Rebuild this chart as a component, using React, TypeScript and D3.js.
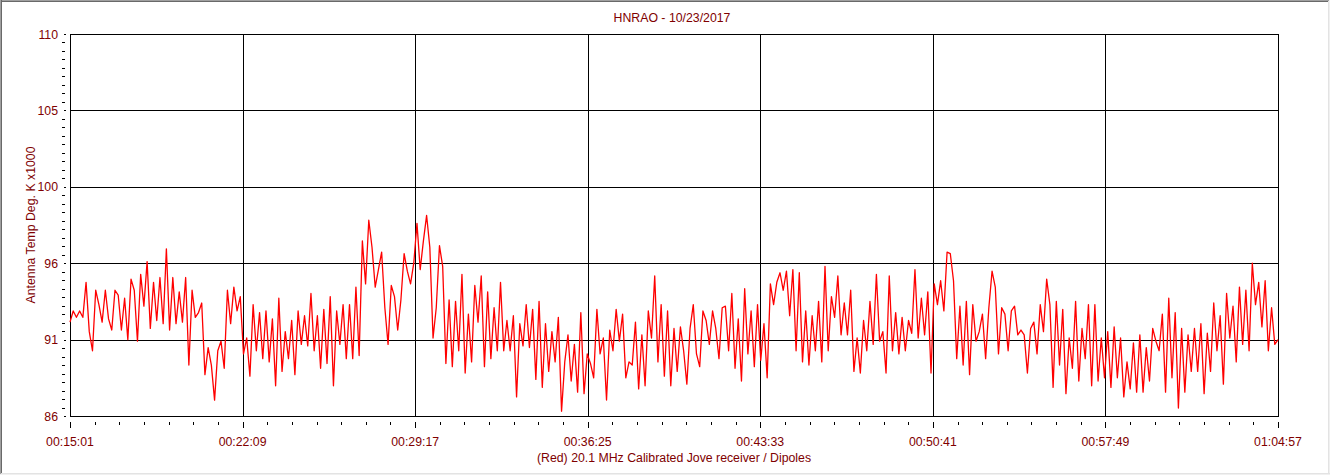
import React from 'react';
import * as d3 from 'd3';

// chart time range, seconds since midnight
const startSec = 901; // 00:15:01
const endSec = 3897; // 01:04:57

const chartTitle = 'HNRAO - 10/23/2017';
const xAxisTitle = '(Red) 20.1 MHz Calibrated Jove receiver / Dipoles';
const yAxisTitle = 'Antenna Temp Deg. K x1000';

const xTickLabels = ['00:15:01', '00:22:09', '00:29:17', '00:36:25', '00:43:33', '00:50:41', '00:57:49', '01:04:57'];
const yTickLabels = ['86', '91', '96', '100', '105', '110'];

const temps1 = [
  91.9, 92.6, 92.2, 92.6, 92.2, 94.4, 91.3, 90.1, 93.9, 93.0,
  91.9, 93.9, 92.1, 91.4, 93.9, 93.6, 91.4, 93.4, 90.8, 94.6,
  93.9, 90.7, 94.9, 92.9, 95.7, 91.5, 94.4, 92.0, 94.7, 91.8,
  96.5, 91.4, 94.7, 91.8, 93.8, 91.9, 94.7, 89.2, 93.9, 92.2,
  92.5, 93.1, 88.6, 90.3, 89.2, 87.0, 90.1, 90.7, 89.0, 93.9,
  91.8, 94.1, 92.6, 93.5, 89.9, 90.9, 88.5, 93.0, 90.1, 92.5,
  89.6, 92.6, 89.4, 92.1, 87.9, 93.4, 88.8, 91.3, 89.6, 92.0,
  88.6, 92.6, 90.5, 92.3, 90.4, 93.7, 90.1, 92.3, 89.0, 92.7,
  89.3, 93.5, 87.9, 92.6, 90.5, 93.0, 89.6, 93.0, 89.6, 94.1,
  89.8, 97.0, 94.3,
];
const temps2 = [
  98.3, 96.6, 94.1, 95.2, 96.3, 92.8, 90.5, 94.2, 93.5, 91.4,
  93.3, 96.2, 95.1, 94.3, 95.6, 98.1, 95.2, 97.0, 98.6, 96.6,
  90.9, 92.8, 96.7, 95.4, 89.3, 93.3, 89.1, 93.2, 90.1, 94.9,
  88.7, 92.4, 89.4, 94.2, 91.9, 94.8, 89.1, 93.8, 89.6, 92.8,
  90.1, 94.4, 90.1, 92.0, 90.1, 92.3, 87.2, 91.8, 90.4, 93.0,
  90.3, 92.7, 88.3, 93.2, 87.8, 91.8, 88.8, 91.3, 89.4, 92.2,
  86.3, 89.4, 91.1, 88.2, 90.5, 87.5, 92.5, 87.4, 89.9, 89.3,
  88.4, 92.7, 89.9, 90.9, 87.0, 91.4, 90.1, 92.7, 90.7, 92.4,
  88.4, 89.4, 89.2, 91.9, 87.7, 91.1, 87.9, 92.6, 90.9, 94.8,
  89.4, 93.0, 88.5, 92.6, 87.9, 91.5, 88.8,
];
const temps3 = [
  91.6, 90.1, 88.0, 91.5, 93.0, 89.9, 89.1, 92.6, 92.0, 90.5,
  92.6, 91.5, 89.6, 92.8, 92.9, 90.1, 93.7, 89.0, 92.1, 88.2,
  94.0, 89.9, 92.6, 89.1, 93.0, 89.5, 91.8, 88.4, 94.3, 93.0,
  94.4, 95.0, 93.9, 95.1, 92.3, 95.2, 90.1, 95.0, 89.4, 92.6,
  89.2, 92.3, 90.1, 93.2, 89.4, 95.4, 90.1, 93.5, 92.2, 94.8,
  91.1, 93.1, 91.1, 93.9, 88.8, 90.9, 88.7, 92.0, 90.1, 93.2,
  90.5, 94.9, 90.7, 91.3, 88.7, 94.8, 90.1, 92.5, 89.9, 92.2,
  90.1, 92.0, 91.2, 95.2, 90.9, 93.4, 91.1, 93.8, 88.7, 94.3,
  93.0, 94.5, 92.6, 96.3, 96.2, 94.5, 89.6, 92.9, 89.2, 93.2,
  88.6, 93.0, 90.7, 91.3,
];
const temps4 = [
  92.4, 89.6, 92.8, 95.1, 94.1, 89.9, 92.8, 92.4, 90.1, 92.6,
  92.9, 91.1, 91.4, 91.1, 88.7, 91.5, 91.9, 89.9, 93.0, 91.3,
  94.6, 93.0, 87.8, 93.2, 89.2, 92.7, 87.4, 90.9, 89.0, 93.2,
  88.2, 91.5, 89.6, 93.0, 87.9, 93.0, 88.2, 90.9, 88.4, 91.3,
  87.8, 91.6, 88.4, 90.9, 87.2, 89.4, 87.7, 90.6, 87.5, 91.1,
  87.5, 90.3, 88.2, 91.5, 90.7, 90.1, 92.4, 87.5, 93.4, 88.4,
  92.5, 86.5, 91.5, 87.5, 91.1, 88.8, 91.5, 88.8, 91.8, 87.4,
  91.2, 88.8, 93.1, 90.1, 92.3, 88.0, 93.7, 90.9, 92.9, 89.4,
  94.1, 90.5, 93.9, 90.1, 95.6, 93.0, 94.4, 91.6, 94.5, 90.1,
  92.8, 90.5, 90.8,
];

const W = 1330;
const H = 475;
const left = 70;
const right = 1278;
const top = 34;
const bottom = 416;
const textColor = '#800000';
const font = '"Liberation Sans", Arial, sans-serif';

const App: React.FC = () => {
  const temps = [...temps1, ...temps2, ...temps3, ...temps4];
  const step = (endSec - startSec) / (temps.length - 1);

  const x = d3.scaleLinear().domain([startSec, endSec]).range([left, right]);
  const y = d3.scaleLinear().domain([86, 110]).range([bottom, top]);

  const line = d3.line<number>()
    .x((_, i) => x(startSec + i * step))
    .y(d => y(d));

  const xMajor = xTickLabels.map((_, i) => startSec + i * (endSec - startSec) / (xTickLabels.length - 1));
  const xMinor = d3.range(0, (xTickLabels.length - 1) * 7 + 1)
    .filter(j => j % 7 !== 0)
    .map(j => startSec + j * (endSec - startSec) / ((xTickLabels.length - 1) * 7));

  const yMajor = yTickLabels.map((_, i) => 86 + i * 24 / (yTickLabels.length - 1));
  const yMinor = d3.range(0, (yTickLabels.length - 1) * 9 + 1)
    .filter(j => j % 9 !== 0)
    .map(j => 86 + j * 24 / ((yTickLabels.length - 1) * 9));

  const px = (v: number) => Math.round(v) + 0.5;

  return (
    <div style={{ position: 'fixed', left: 0, top: 0 }}>
      <svg width={W} height={H} style={{ display: 'block', background: '#fff' }}>
        {/* window frame */}
        <line x1={0} y1={0.5} x2={W} y2={0.5} stroke="#a0a0a0" />
        <line x1={0} y1={1.5} x2={W - 2} y2={1.5} stroke="#696969" />
        <line x1={0.5} y1={0} x2={0.5} y2={H} stroke="#a0a0a0" />
        <line x1={1.5} y1={0} x2={1.5} y2={H - 2} stroke="#696969" />
        <line x1={W - 1.5} y1={1} x2={W - 1.5} y2={H} stroke="#e3e3e3" />
        <line x1={W - 0.5} y1={0} x2={W - 0.5} y2={H} stroke="#f0f0f0" />
        <line x1={1} y1={H - 1.5} x2={W} y2={H - 1.5} stroke="#e3e3e3" />
        <line x1={0} y1={H - 0.5} x2={W} y2={H - 0.5} stroke="#f0f0f0" />

        <text x={672} y={22} textAnchor="middle" fill={textColor} fontFamily={font} fontSize={12.3}>
          {chartTitle}
        </text>

        {/* grid */}
        <g stroke="#000" strokeWidth={1} shapeRendering="crispEdges">
          {xMajor.map((t, i) => (
            <line key={'gx' + i} x1={px(x(t))} x2={px(x(t))} y1={top} y2={bottom + 1} />
          ))}
          {yMajor.map((v, i) => (
            <line key={'gy' + i} x1={left} x2={right + 1} y1={px(y(v))} y2={px(y(v))} />
          ))}
        </g>

        {/* trace */}
        <path d={line(temps) || ''} fill="none" stroke="#ff0000" strokeWidth={1.3} strokeLinejoin="round" />

        {/* y axis ticks and labels */}
        <g stroke="#000" shapeRendering="crispEdges">
          {yMinor.map((v, i) => (
            <line key={'ym' + i} x1={62} x2={65} y1={px(y(v))} y2={px(y(v))} />
          ))}
          {yMajor.map((v, i) => (
            <line key={'yM' + i} x1={64} x2={66} y1={px(y(v))} y2={px(y(v))} />
          ))}
        </g>
        {yMajor.map((v, i) => (
          <text key={'yl' + i} x={58} y={y(v) + 4.5} textAnchor="end" fill={textColor} fontFamily={font} fontSize={12.3}>
            {yTickLabels[i]}
          </text>
        ))}
        <text
          transform={`translate(35,${(top + bottom) / 2}) rotate(-90)`}
          textAnchor="middle"
          fill={textColor}
          fontFamily={font}
          fontSize={12.3}
        >
          {yAxisTitle}
        </text>

        {/* x axis ticks and labels */}
        <g stroke="#000" shapeRendering="crispEdges">
          {xMinor.map((t, i) => (
            <line key={'xm' + i} x1={px(x(t))} x2={px(x(t))} y1={422} y2={425} />
          ))}
          {xMajor.map((t, i) => (
            <line key={'xM' + i} x1={px(x(t))} x2={px(x(t))} y1={422} y2={428} />
          ))}
        </g>
        {xMajor.map((t, i) => (
          <text key={'xl' + i} x={x(t)} y={446} textAnchor="middle" fill={textColor} fontFamily={font} fontSize={12.3}>
            {xTickLabels[i]}
          </text>
        ))}
        <text x={674} y={462} textAnchor="middle" fill={textColor} fontFamily={font} fontSize={12.3}>
          {xAxisTitle}
        </text>
      </svg>
    </div>
  );
};

export default App;
